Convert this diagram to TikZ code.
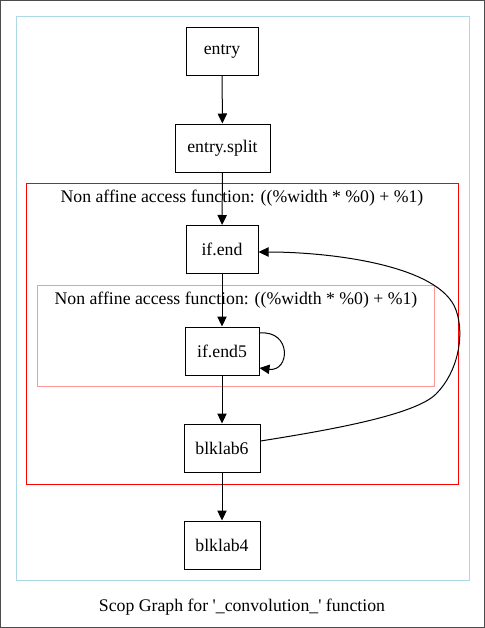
\documentclass[tikz,border=0pt]{standalone}
\usepackage{fontspec}
\setmainfont{Liberation Serif}
\usetikzlibrary{arrows.meta}
\definecolor{clblue}{RGB}{173,216,230}
\definecolor{clpink}{RGB}{255,150,150}
\tikzset{
  bb/.style={draw=black, line width=0.75pt, minimum height=36pt, inner sep=0pt, font=\fontsize{13.3pt}{15pt}\selectfont},
  edge/.style={line width=0.75pt, -{Triangle[length=7.5pt,width=7pt]}},
  lbl/.style={font=\fontsize{13.3pt}{15pt}\selectfont, inner sep=0pt}
}
\begin{document}
\begin{tikzpicture}[x=0.75pt,y=-0.75pt]
\useasboundingbox (0,0) rectangle (485,628);
\draw[line width=0.75pt, draw=black!70] (0.5,0.5) rectangle (484.5,627.5);
\draw[clblue, line width=0.75pt] (16.5,16.5) rectangle (469.5,580.5);
\draw[red, line width=0.75pt] (26.5,183.5) rectangle (458.5,484.5);
\draw[clpink, line width=0.75pt] (37.5,285.5) rectangle (434.5,386.5);
\node[lbl] (lred) at (242,198) {Non affine access function: ((\%width * \%0) + \%1)};
\node[lbl] (lpink) at (236,300) {Non affine access function: ((\%width * \%0) + \%1)};
\node[lbl] (cap) at (242,607) {Scop Graph for \textquotesingle\_convolution\_\textquotesingle{} function};
\node[bb, minimum width=54pt] (entry) at (222,51) {entry};
\node[bb, minimum width=71.25pt] (split) at (222.5,148) {entry.split};
\node[bb, minimum width=54pt] (ifend) at (222,249.5) {if.end};
\node[bb, minimum width=55.5pt] (ifend5) at (222,351) {if.end5};
\node[bb, minimum width=57pt] (b6) at (222,448) {blklab6};
\node[bb, minimum width=57pt] (b4) at (222,545) {blklab4};
\draw[edge] (entry) -- (split);
\draw[edge] (split) -- (ifend);
\draw[edge] (ifend) -- (ifend5);
\draw[edge] (ifend5) -- (b6);
\draw[edge] (b6) -- (b4);
\draw[edge] (ifend5.east |- 0,333) .. controls (292,330) and (290,372) .. (ifend5.east |- 0,368);
\draw[edge] (b6.east |- 0,441) .. controls (330,430) and (415,415) .. (436,394)
  .. controls (458,372) and (465,335) .. (456,310)
  .. controls (440,265) and (330,252) .. (ifend.east |- 0,252);
\end{tikzpicture}
\end{document}
